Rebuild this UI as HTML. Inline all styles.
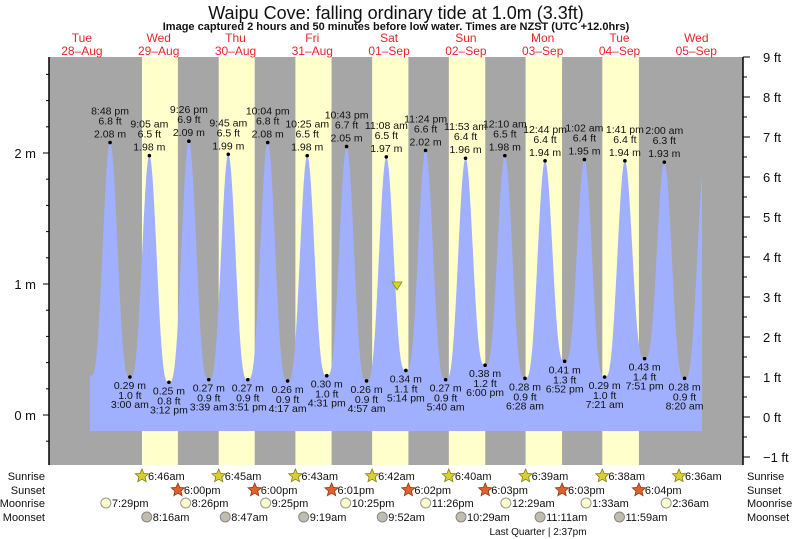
<!DOCTYPE html>
<html><head><meta charset="utf-8"><style>
body{margin:0;background:#fff;}
svg{display:block;font-family:"Liberation Sans",sans-serif;}
</style></head><body>
<svg id="s" width="793" height="539" xmlns="http://www.w3.org/2000/svg">
<text x="396" y="19" font-size="18" text-anchor="middle" fill="#111">Waipu Cove: falling  ordinary tide at 1.0m (3.3ft)</text>
<text x="396" y="30" font-size="11" font-weight="bold" text-anchor="middle" fill="#111">Image captured 2 hours and 50 minutes before low water. Times are NZST (UTC +12.0hrs)</text>
<g id="g"></g>
</svg>
<script>
var NS="http://www.w3.org/2000/svg",g=document.getElementById('g');
function el(t,a,txt){var e=document.createElementNS(NS,t);for(var k in a)e.setAttribute(k,a[k]);if(txt!=null)e.textContent=txt;g.appendChild(e);return e;}
function X(h){return 43.5+3.2*h;}
function Y(m){return 415-131*m;}
var L=49,R=743,T=57,B=465;
el('rect',{x:L,y:T,width:R-L,height:B-T,fill:'#a6a6a6'});
var sr=[6.767,6.75,6.717,6.7,6.667,6.65,6.633,6.6],ss=[18,18,18.017,18.033,18.05,18.05,18.067];
for(var d=0;d<7;d++){el('rect',{x:X(24*(d+1)+sr[d]),y:T,width:X(24*(d+1)+ss[d])-X(24*(d+1)+sr[d]),height:B-T,fill:'#ffffcc'});}
var days=[["Tue","28\u2013Aug"],["Wed","29\u2013Aug"],["Thu","30\u2013Aug"],["Fri","31\u2013Aug"],["Sat","01\u2013Sep"],["Sun","02\u2013Sep"],["Mon","03\u2013Sep"],["Tue","04\u2013Sep"],["Wed","05\u2013Sep"]];
days.forEach(function(d,i){var x=X(24*i+12);el('text',{x:x,y:42,'font-size':12,fill:'#e8262a','text-anchor':'middle'},d[0]);el('text',{x:x,y:55,'font-size':12,fill:'#e8262a','text-anchor':'middle'},d[1]);});
function hm(day,h,m){return 24*day+h+m/60;}
var ex=[[hm(0,14,40),0.3,0],
[hm(0,20,48),2.08,1,"8:48 pm","6.8 ft"],[hm(1,3,0),0.29,-1,"3:00 am","1.0 ft"],[hm(1,9,5),1.98,1,"9:05 am","6.5 ft"],[hm(1,15,12),0.25,-1,"3:12 pm","0.8 ft"],
[hm(1,21,26),2.09,1,"9:26 pm","6.9 ft"],[hm(2,3,39),0.27,-1,"3:39 am","0.9 ft"],[hm(2,9,45),1.99,1,"9:45 am","6.5 ft"],[hm(2,15,51),0.27,-1,"3:51 pm","0.9 ft"],
[hm(2,22,4),2.08,1,"10:04 pm","6.8 ft"],[hm(3,4,17),0.26,-1,"4:17 am","0.9 ft"],[hm(3,10,25),1.98,1,"10:25 am","6.5 ft"],[hm(3,16,31),0.30,-1,"4:31 pm","1.0 ft"],
[hm(3,22,43),2.05,1,"10:43 pm","6.7 ft"],[hm(4,4,57),0.26,-1,"4:57 am","0.9 ft"],[hm(4,11,8),1.97,1,"11:08 am","6.5 ft"],[hm(4,17,14),0.34,-1,"5:14 pm","1.1 ft"],
[hm(4,23,24),2.02,1,"11:24 pm","6.6 ft"],[hm(5,5,40),0.27,-1,"5:40 am","0.9 ft"],[hm(5,11,53),1.96,1,"11:53 am","6.4 ft"],[hm(5,18,0),0.38,-1,"6:00 pm","1.2 ft"],
[hm(6,0,10),1.98,1,"12:10 am","6.5 ft"],[hm(6,6,28),0.28,-1,"6:28 am","0.9 ft"],[hm(6,12,44),1.94,1,"12:44 pm","6.4 ft"],[hm(6,18,52),0.41,-1,"6:52 pm","1.3 ft"],
[hm(7,1,2),1.95,1,"1:02 am","6.4 ft"],[hm(7,7,21),0.29,-1,"7:21 am","1.0 ft"],[hm(7,13,41),1.94,1,"1:41 pm","6.4 ft"],[hm(7,19,51),0.43,-1,"7:51 pm","1.4 ft"],
[hm(8,2,0),1.93,1,"2:00 am","6.3 ft"],[hm(8,8,20),0.28,-1,"8:20 am","0.9 ft"],[hm(8,14,40),1.95,0]];
var x0=90,x1=702,yb=431,p="M"+x0+","+yb;
for(var x=x0;x<=x1;x+=0.5){var h=(x-43.5)/3.2,i=0;while(i<ex.length-2&&ex[i+1][0]<h)i++;var a=ex[i],b=ex[i+1],f=(h-a[0])/(b[0]-a[0]);f=Math.max(0,Math.min(1,f));
var c=(1-Math.cos(Math.PI*f))/2;var lo=Math.min(a[1],b[1]),hi=Math.max(a[1],b[1]);var up=b[1]>a[1]?c:1-c;var m=lo+(hi-lo)*Math.pow(up,1.6);
p+=" L"+x+","+Y(m).toFixed(1);}
p+=" L"+x1+","+yb+"Z";
el('path',{d:p,fill:'#a0b0ff'});
ex.forEach(function(e){if(!e[2])return;var x=X(e[0]),y=Y(e[1]);el('circle',{cx:x,cy:y,r:1.8,fill:'#000'});var ms=e[1].toFixed(2)+" m";
if(e[2]>0){el('text',{x:x,y:y-28,'font-size':10.5,'text-anchor':'middle',fill:'#111'},e[3]);el('text',{x:x,y:y-18,'font-size':10.5,'text-anchor':'middle',fill:'#111'},e[4]);el('text',{x:x,y:y-5,'font-size':10.5,'text-anchor':'middle',fill:'#111'},ms);}
else{el('text',{x:x,y:y+12,'font-size':10.5,'text-anchor':'middle',fill:'#111'},ms);el('text',{x:x,y:y+22,'font-size':10.5,'text-anchor':'middle',fill:'#111'},e[4]);el('text',{x:x,y:y+31,'font-size':10.5,'text-anchor':'middle',fill:'#111'},e[3]);}});
el('polygon',{points:"392,282 402,282 397,290",fill:'#d8d820',stroke:'#8a8a10','stroke-width':0.8});
el('line',{x1:L,y1:T,x2:L,y2:B,stroke:'#000','stroke-width':1.5});
el('line',{x1:R,y1:T,x2:R,y2:B,stroke:'#000','stroke-width':1.5});
for(var k=-2;k<=13;k++){var y=Y(k*0.2);if(y<T||y>B)continue;var maj=(k%5==0);el('line',{x1:maj?43:46,y1:y,x2:L,y2:y,stroke:'#000','stroke-width':1});if(maj)el('text',{x:36,y:y+5,'font-size':13,'text-anchor':'end',fill:'#111'},(k/5)+" m");}
for(var k=-2;k<=18;k++){var y=417-20*k;if(y<T-1||y>B)continue;var maj=(k%2==0);el('line',{x1:R,y1:y,x2:maj?750:747,y2:y,stroke:'#000','stroke-width':1});if(maj){var v=k/2;el('text',{x:763,y:y+5,'font-size':13,fill:'#111'},(v<0?"\u22121":v)+" ft");}}
var rows=[["Sunrise",476],["Sunset",490],["Moonrise",503],["Moonset",517]];
rows.forEach(function(r){el('text',{x:45,y:r[1]+4,'font-size':11,'text-anchor':'end',fill:'#111'},r[0]);el('text',{x:747,y:r[1]+4,'font-size':11,fill:'#111'},r[0]);});
function star(cx,cy,fill,stroke){var pts=[];for(var i=0;i<10;i++){var r=i%2?3.2:7,a=-Math.PI/2+i*Math.PI/5;pts.push((cx+r*Math.cos(a)).toFixed(1)+","+(cy+r*Math.sin(a)).toFixed(1));}el('polygon',{points:pts.join(" "),fill:fill,stroke:stroke,'stroke-width':0.8});}
function lab(x,y,t){el('text',{x:x+6,y:y+4,'font-size':11,fill:'#111'},t);}
var srt=["6:46am","6:45am","6:43am","6:42am","6:40am","6:39am","6:38am","6:36am"];
sr.forEach(function(h,d){var x=X(24*(d+1)+h);star(x,476,'#d6d030','#8a7a10');lab(x,476,srt[d]);});
var sst=["6:00pm","6:00pm","6:01pm","6:02pm","6:03pm","6:03pm","6:04pm"];
ss.forEach(function(h,d){var x=X(24*(d+1)+h);star(x,490,'#e06030','#8a3a10');lab(x,490,sst[d]);});
var mr=[[hm(0,19,29),"7:29pm"],[hm(1,20,26),"8:26pm"],[hm(2,21,25),"9:25pm"],[hm(3,22,25),"10:25pm"],[hm(4,23,26),"11:26pm"],[hm(6,0,29),"12:29am"],[hm(7,1,33),"1:33am"],[hm(8,2,36),"2:36am"]];
mr.forEach(function(m){var x=X(m[0]);el('circle',{cx:x,cy:503,r:5,fill:'#ffffcc',stroke:'#999'});lab(x,503,m[1]);});
var ms=[[hm(1,8,16),"8:16am"],[hm(2,8,47),"8:47am"],[hm(3,9,19),"9:19am"],[hm(4,9,52),"9:52am"],[hm(5,10,29),"10:29am"],[hm(6,11,11),"11:11am"],[hm(7,11,59),"11:59am"]];
ms.forEach(function(m){var x=X(m[0]);el('circle',{cx:x,cy:517,r:5,fill:'#c0bcb0',stroke:'#888'});lab(x,517,m[1]);});
el('text',{x:538,y:535,'font-size':10,'text-anchor':'middle',fill:'#111'},"Last Quarter | 2:37pm");
</script>
</body></html>
